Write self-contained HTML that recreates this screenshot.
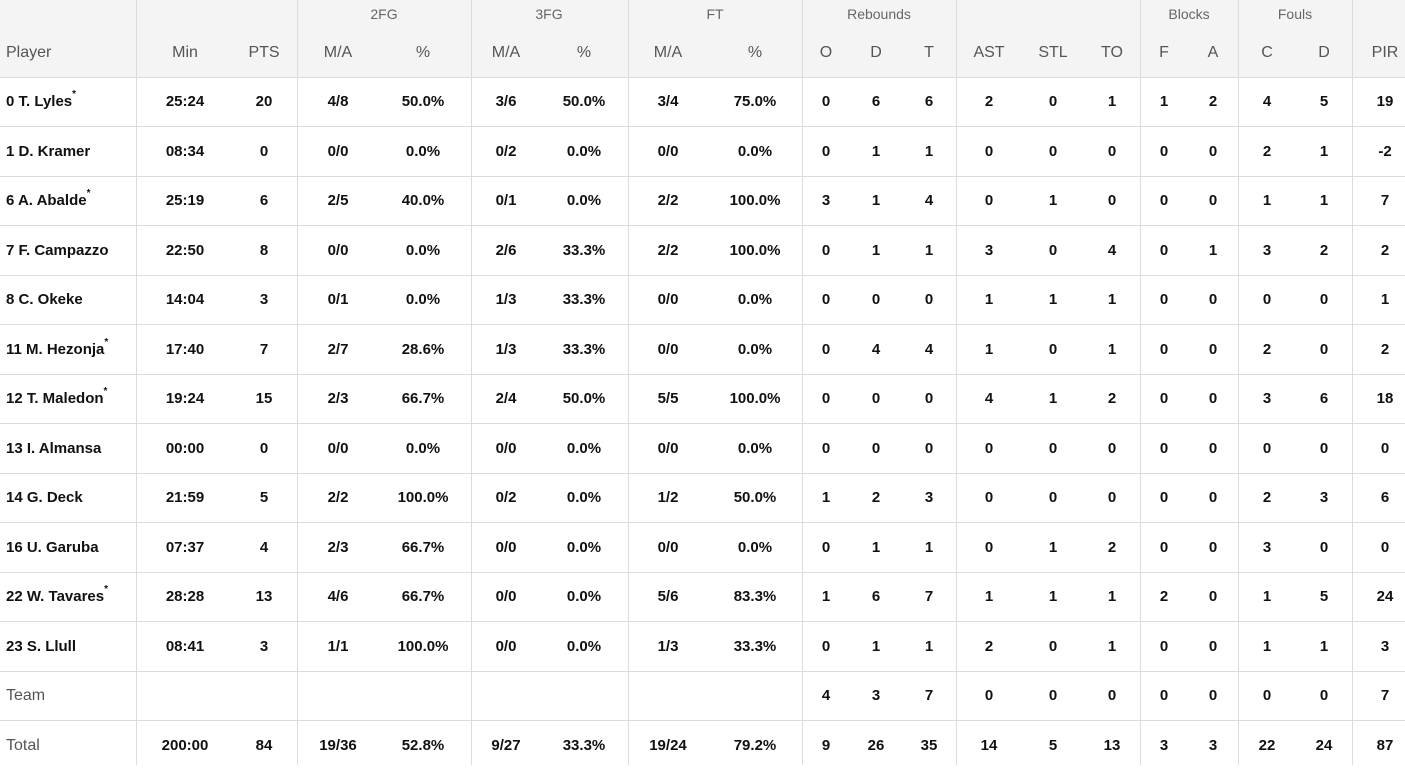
<!DOCTYPE html>
<html><head><meta charset="utf-8"><style>
*{margin:0;padding:0;box-sizing:border-box}
body{width:1405px;height:765px;background:#fff;position:relative;overflow:hidden;font-family:"Liberation Sans",sans-serif}
.hd{position:absolute;left:0;top:0;width:1405px;height:77px;background:#f4f4f4}
.v{position:absolute;top:0;width:1px;height:765px;background:#dcdcdc}
.h{position:absolute;left:0;width:1405px;height:1px;background:#dcdcdc}
.r{position:absolute;left:0;width:1405px;height:49px}
.r span{position:absolute;width:90px;text-align:center;top:0;line-height:49px;font-size:15px;font-weight:bold;color:#111}
.r span.p{left:6px;width:130px;text-align:left}
.r span.g{font-weight:normal;color:#555;font-size:16px}
.sh span{color:#555;font-weight:normal;font-size:16px}
sup{font-size:10px;position:relative;top:-2px;vertical-align:top;line-height:40px}
.grp{position:absolute;top:6px;font-size:14px;color:#666;width:160px;text-align:center;margin-left:-80px}
.a{left:140px}.b{left:219px}.c{left:293px}.d{left:378px}.e{left:461px}.f{left:539px}.g2{left:623px}.h2{left:710px}
.i{left:781px}.j{left:831px}.k{left:884px}.l{left:944px}.m{left:1008px}.n{left:1067px}.o{left:1119px}.q{left:1168px}.s{left:1222px}.t{left:1279px}.u{left:1340px}
</style></head><body>
<div class="hd"></div>
<div class="v" style="left:136px"></div><div class="v" style="left:297px"></div><div class="v" style="left:471px"></div><div class="v" style="left:628px"></div><div class="v" style="left:802px"></div><div class="v" style="left:956px"></div><div class="v" style="left:1140px"></div><div class="v" style="left:1238px"></div><div class="v" style="left:1352px"></div>
<div class="h" style="top:77px"></div><div class="h" style="top:126px"></div><div class="h" style="top:176px"></div><div class="h" style="top:225px"></div><div class="h" style="top:275px"></div><div class="h" style="top:324px"></div><div class="h" style="top:374px"></div><div class="h" style="top:423px"></div><div class="h" style="top:473px"></div><div class="h" style="top:522px"></div><div class="h" style="top:572px"></div><div class="h" style="top:621px"></div><div class="h" style="top:671px"></div><div class="h" style="top:720px"></div>
<div class="grp" style="left:384px">2FG</div><div class="grp" style="left:549px">3FG</div><div class="grp" style="left:715px">FT</div><div class="grp" style="left:879px">Rebounds</div><div class="grp" style="left:1189px">Blocks</div><div class="grp" style="left:1295px">Fouls</div>
<div class="r sh" style="top:28px"><span class="p">Player</span><span class="a">Min</span><span class="b">PTS</span><span class="c">M/A</span><span class="d">%</span><span class="e">M/A</span><span class="f">%</span><span class="g2">M/A</span><span class="h2">%</span><span class="i">O</span><span class="j">D</span><span class="k">T</span><span class="l">AST</span><span class="m">STL</span><span class="n">TO</span><span class="o">F</span><span class="q">A</span><span class="s">C</span><span class="t">D</span><span class="u">PIR</span></div>
<div class="r" style="top:77px"><span class="p">0 T. Lyles<sup>*</sup></span><span class="a">25:24</span><span class="b">20</span><span class="c">4/8</span><span class="d">50.0%</span><span class="e">3/6</span><span class="f">50.0%</span><span class="g2">3/4</span><span class="h2">75.0%</span><span class="i">0</span><span class="j">6</span><span class="k">6</span><span class="l">2</span><span class="m">0</span><span class="n">1</span><span class="o">1</span><span class="q">2</span><span class="s">4</span><span class="t">5</span><span class="u">19</span></div>
<div class="r" style="top:126.5px"><span class="p">1 D. Kramer</span><span class="a">08:34</span><span class="b">0</span><span class="c">0/0</span><span class="d">0.0%</span><span class="e">0/2</span><span class="f">0.0%</span><span class="g2">0/0</span><span class="h2">0.0%</span><span class="i">0</span><span class="j">1</span><span class="k">1</span><span class="l">0</span><span class="m">0</span><span class="n">0</span><span class="o">0</span><span class="q">0</span><span class="s">2</span><span class="t">1</span><span class="u">-2</span></div>
<div class="r" style="top:176px"><span class="p">6 A. Abalde<sup>*</sup></span><span class="a">25:19</span><span class="b">6</span><span class="c">2/5</span><span class="d">40.0%</span><span class="e">0/1</span><span class="f">0.0%</span><span class="g2">2/2</span><span class="h2">100.0%</span><span class="i">3</span><span class="j">1</span><span class="k">4</span><span class="l">0</span><span class="m">1</span><span class="n">0</span><span class="o">0</span><span class="q">0</span><span class="s">1</span><span class="t">1</span><span class="u">7</span></div>
<div class="r" style="top:225.5px"><span class="p">7 F. Campazzo</span><span class="a">22:50</span><span class="b">8</span><span class="c">0/0</span><span class="d">0.0%</span><span class="e">2/6</span><span class="f">33.3%</span><span class="g2">2/2</span><span class="h2">100.0%</span><span class="i">0</span><span class="j">1</span><span class="k">1</span><span class="l">3</span><span class="m">0</span><span class="n">4</span><span class="o">0</span><span class="q">1</span><span class="s">3</span><span class="t">2</span><span class="u">2</span></div>
<div class="r" style="top:275px"><span class="p">8 C. Okeke</span><span class="a">14:04</span><span class="b">3</span><span class="c">0/1</span><span class="d">0.0%</span><span class="e">1/3</span><span class="f">33.3%</span><span class="g2">0/0</span><span class="h2">0.0%</span><span class="i">0</span><span class="j">0</span><span class="k">0</span><span class="l">1</span><span class="m">1</span><span class="n">1</span><span class="o">0</span><span class="q">0</span><span class="s">0</span><span class="t">0</span><span class="u">1</span></div>
<div class="r" style="top:324.5px"><span class="p">11 M. Hezonja<sup>*</sup></span><span class="a">17:40</span><span class="b">7</span><span class="c">2/7</span><span class="d">28.6%</span><span class="e">1/3</span><span class="f">33.3%</span><span class="g2">0/0</span><span class="h2">0.0%</span><span class="i">0</span><span class="j">4</span><span class="k">4</span><span class="l">1</span><span class="m">0</span><span class="n">1</span><span class="o">0</span><span class="q">0</span><span class="s">2</span><span class="t">0</span><span class="u">2</span></div>
<div class="r" style="top:374px"><span class="p">12 T. Maledon<sup>*</sup></span><span class="a">19:24</span><span class="b">15</span><span class="c">2/3</span><span class="d">66.7%</span><span class="e">2/4</span><span class="f">50.0%</span><span class="g2">5/5</span><span class="h2">100.0%</span><span class="i">0</span><span class="j">0</span><span class="k">0</span><span class="l">4</span><span class="m">1</span><span class="n">2</span><span class="o">0</span><span class="q">0</span><span class="s">3</span><span class="t">6</span><span class="u">18</span></div>
<div class="r" style="top:423.5px"><span class="p">13 I. Almansa</span><span class="a">00:00</span><span class="b">0</span><span class="c">0/0</span><span class="d">0.0%</span><span class="e">0/0</span><span class="f">0.0%</span><span class="g2">0/0</span><span class="h2">0.0%</span><span class="i">0</span><span class="j">0</span><span class="k">0</span><span class="l">0</span><span class="m">0</span><span class="n">0</span><span class="o">0</span><span class="q">0</span><span class="s">0</span><span class="t">0</span><span class="u">0</span></div>
<div class="r" style="top:473px"><span class="p">14 G. Deck</span><span class="a">21:59</span><span class="b">5</span><span class="c">2/2</span><span class="d">100.0%</span><span class="e">0/2</span><span class="f">0.0%</span><span class="g2">1/2</span><span class="h2">50.0%</span><span class="i">1</span><span class="j">2</span><span class="k">3</span><span class="l">0</span><span class="m">0</span><span class="n">0</span><span class="o">0</span><span class="q">0</span><span class="s">2</span><span class="t">3</span><span class="u">6</span></div>
<div class="r" style="top:522.5px"><span class="p">16 U. Garuba</span><span class="a">07:37</span><span class="b">4</span><span class="c">2/3</span><span class="d">66.7%</span><span class="e">0/0</span><span class="f">0.0%</span><span class="g2">0/0</span><span class="h2">0.0%</span><span class="i">0</span><span class="j">1</span><span class="k">1</span><span class="l">0</span><span class="m">1</span><span class="n">2</span><span class="o">0</span><span class="q">0</span><span class="s">3</span><span class="t">0</span><span class="u">0</span></div>
<div class="r" style="top:572px"><span class="p">22 W. Tavares<sup>*</sup></span><span class="a">28:28</span><span class="b">13</span><span class="c">4/6</span><span class="d">66.7%</span><span class="e">0/0</span><span class="f">0.0%</span><span class="g2">5/6</span><span class="h2">83.3%</span><span class="i">1</span><span class="j">6</span><span class="k">7</span><span class="l">1</span><span class="m">1</span><span class="n">1</span><span class="o">2</span><span class="q">0</span><span class="s">1</span><span class="t">5</span><span class="u">24</span></div>
<div class="r" style="top:621.5px"><span class="p">23 S. Llull</span><span class="a">08:41</span><span class="b">3</span><span class="c">1/1</span><span class="d">100.0%</span><span class="e">0/0</span><span class="f">0.0%</span><span class="g2">1/3</span><span class="h2">33.3%</span><span class="i">0</span><span class="j">1</span><span class="k">1</span><span class="l">2</span><span class="m">0</span><span class="n">1</span><span class="o">0</span><span class="q">0</span><span class="s">1</span><span class="t">1</span><span class="u">3</span></div>
<div class="r" style="top:671px"><span class="p g">Team</span><span class="i">4</span><span class="j">3</span><span class="k">7</span><span class="l">0</span><span class="m">0</span><span class="n">0</span><span class="o">0</span><span class="q">0</span><span class="s">0</span><span class="t">0</span><span class="u">7</span></div>
<div class="r" style="top:720.5px"><span class="p g">Total</span><span class="a">200:00</span><span class="b">84</span><span class="c">19/36</span><span class="d">52.8%</span><span class="e">9/27</span><span class="f">33.3%</span><span class="g2">19/24</span><span class="h2">79.2%</span><span class="i">9</span><span class="j">26</span><span class="k">35</span><span class="l">14</span><span class="m">5</span><span class="n">13</span><span class="o">3</span><span class="q">3</span><span class="s">22</span><span class="t">24</span><span class="u">87</span></div>
</body></html>
